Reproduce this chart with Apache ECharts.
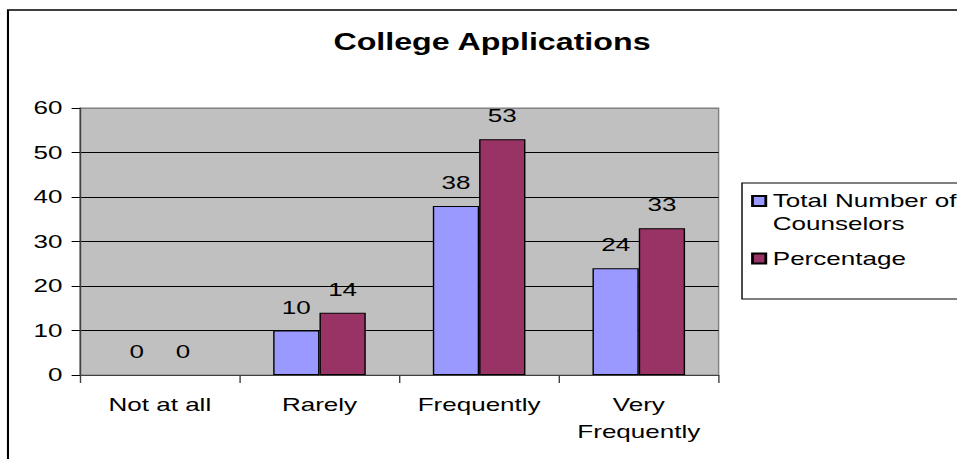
<!DOCTYPE html>
<html>
<head>
<meta charset="utf-8">
<script src="https://cdn.jsdelivr.net/npm/echarts@6/dist/echarts.min.js"></script>
<style>
html,body{margin:0;padding:0;background:#fff;overflow:hidden;}
#chart{width:683.57px;height:459px;transform:scaleX(1.4);transform-origin:0 0;}
</style>
</head>
<body>
<div id="chart"></div>
<script>
const titleText = 'College Applications';
const categories = ['Not at all', 'Rarely', 'Frequently', 'Very\nFrequently'];
const seriesNames = ['Total Number of Counselors', 'Percentage'];
const counselors = [0, 10, 38, 24];
const percentage = [0, 14, 53, 33];
const yMin = 0, yMax = 60, yStep = 10;

const FONT = "'Liberation Sans', Arial, sans-serif";
const chart = echarts.init(document.getElementById('chart'), null, {renderer: 'svg'});

const labelCfg = {show: true, position: 'top', distance: 13.5, color: '#000', fontSize: 18.6, fontFamily: FONT};
// zero-height bars: no visible outline on the axis
const toItems = arr => arr.map(v => v === 0 ? {value: v, itemStyle: {borderWidth: 0}} : v);

chart.setOption({
  animation: false,
  backgroundColor: '#fff',
  textStyle: {fontFamily: FONT},
  title: {
    text: titleText, left: 351.4, textAlign: 'center', top: 30.5, padding: 0,
    textStyle: {fontSize: 23, fontWeight: 'bold', color: '#000', fontFamily: FONT}
  },
  graphic: [
    {type: 'rect', shape: {x: 5.7, y: 10, width: 720, height: 520}, style: {fill: 'none', stroke: '#000', lineWidth: 1.5}, z: -10},
    {type: 'rect', shape: {x: 530, y: 183, width: 200, height: 116}, style: {fill: '#fff', stroke: '#000', lineWidth: 1}, z: -5}
  ],
  legend: {
    orient: 'vertical', left: 536.5, top: 166.5, padding: 0, itemGap: 11.5,
    itemWidth: 9.5, itemHeight: 10, icon: 'rect',
    textStyle: {fontSize: 18.6, color: '#000', fontFamily: FONT, lineHeight: 23},
    formatter: function (n) { return n === seriesNames[0] ? '\nTotal Number of\nCounselors' : n; },
    data: seriesNames
  },
  grid: {
    left: 57.14, right: 170.71, top: 108, bottom: 84,
    show: true, backgroundColor: '#C0C0C0', borderColor: '#808080', borderWidth: 1,
    containLabel: false
  },
  xAxis: {
    type: 'category', data: categories,
    axisLine: {lineStyle: {color: '#404040', width: 1}},
    axisTick: {show: true, length: 8, lineStyle: {color: '#404040'}},
    axisLabel: {fontSize: 18.6, color: '#000', margin: 16.5, lineHeight: 27, fontFamily: FONT, interval: 0}
  },
  yAxis: {
    type: 'value', min: yMin, max: yMax, interval: yStep,
    axisLine: {show: true, lineStyle: {color: '#404040', width: 1}},
    axisTick: {show: true, length: 6, lineStyle: {color: '#000'}},
    axisLabel: {fontSize: 18.6, color: '#000', margin: 12.5, fontFamily: FONT},
    splitLine: {show: true, lineStyle: {color: ['#000', '#000', '#000', '#000', '#000', '#000', '#808080'], width: 1}}
  },
  series: [
    {
      name: seriesNames[0], type: 'bar', data: toItems(counselors),
      barGap: '0%', barCategoryGap: '42%',
      itemStyle: {color: '#9999FF', borderColor: '#000', borderWidth: 1},
      label: labelCfg
    },
    {
      name: seriesNames[1], type: 'bar', data: toItems(percentage),
      barGap: '0%', barCategoryGap: '42%',
      itemStyle: {color: '#993366', borderColor: '#000', borderWidth: 1},
      label: labelCfg
    }
  ]
});
</script>
</body>
</html>
